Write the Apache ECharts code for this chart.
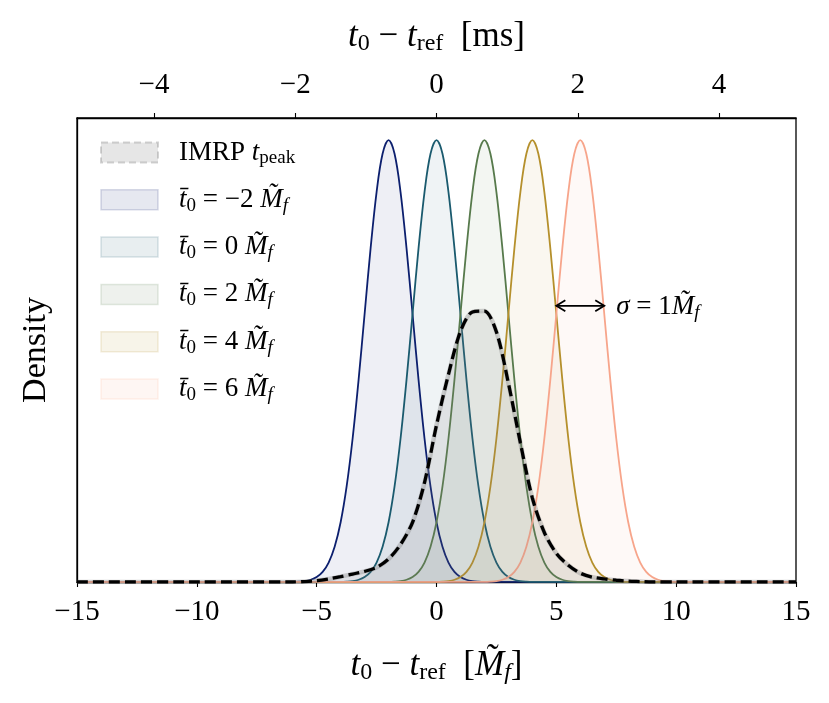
<!DOCTYPE html>
<html>
<head>
<meta charset="utf-8">
<script src="https://cdn.jsdelivr.net/npm/echarts@6/dist/echarts.min.js"></script>
<style>html,body{margin:0;padding:0;background:#fff;}#chart{width:829px;height:703px;}</style>
</head>
<body>
<div id="chart"></div>
<script>
// ---------- data ----------
const xRange = [-15, 15];
const xTickInterval = 5;
const msRange = [-5.09, 5.09];           // top axis (ms) spans the same window
const msTicks = [-4, -2, 0, 2, 4];
const yRange = [0, 1.05];

// Gaussian prior shape (sigma = 1): offset from centre -> relative density
const shapeOffsets = [-4, -3.75, -3.5, -3.25, -3, -2.75, -2.5, -2.25, -2, -1.75, -1.5, -1.25, -1, -0.75, -0.5, -0.25, 0,
                      0.25, 0.5, 0.75, 1, 1.25, 1.5, 1.75, 2, 2.25, 2.5, 2.75, 3, 3.25, 3.5, 3.75, 4];
const shapeValues = [0.0003, 0.0009, 0.0022, 0.0051, 0.0111, 0.0228, 0.0439, 0.0796, 0.1353, 0.2163, 0.3247, 0.4578, 0.6065, 0.7548, 0.8825, 0.9692, 1,
                     0.9692, 0.8825, 0.7548, 0.6065, 0.4578, 0.3247, 0.2163, 0.1353, 0.0796, 0.0439, 0.0228, 0.0111, 0.0051, 0.0022, 0.0009, 0.0003];
const priorCentres = [-2, 0, 2, 4, 6];
const priorNames = ['t0 = -2 Mf', 't0 = 0 Mf', 't0 = 2 Mf', 't0 = 4 Mf', 't0 = 6 Mf'];

// IMRP t_peak density (dashed curve)
const imrpX = [-15, -10, -6, -5.5, -5, -4.5, -4, -3.5, -3, -2.5, -2, -1.5, -1, -0.5, 0, 0.5, 1, 1.5, 2, 2.5, 3, 3.5, 4, 4.5, 5, 5.5, 6, 6.5, 7, 7.5, 8, 8.5, 9, 10, 15];
const imrpY = [0, 0, 0, 0.001, 0.003, 0.007, 0.012, 0.018, 0.024, 0.033, 0.052, 0.085, 0.135, 0.225, 0.355, 0.47, 0.567, 0.611, 0.613, 0.566, 0.45, 0.315, 0.19, 0.112, 0.065, 0.038, 0.02, 0.011, 0.007, 0.004, 0.002, 0.001, 0, 0, 0];
const imrpName = 'IMRP t_peak';

// sigma annotation
const sigmaArrowX = [5, 7];
const sigmaArrowLevel = 0.625;

// ---------- styles ----------
const lineColors = ['#0c1f6e', '#1a5a6e', '#577a4c', '#b5902c', '#f7a58b'];
const FONT = 'Liberation Serif';

function rgba(hex, a) {
  const n = parseInt(hex.slice(1), 16);
  return 'rgba(' + ((n >> 16) & 255) + ',' + ((n >> 8) & 255) + ',' + (n & 255) + ',' + a + ')';
}

const series = [];
series.push({
  name: imrpName, type: 'line', showSymbol: false, symbol: 'none', smooth: 0.3, z: 3,
  data: imrpX.map((x, i) => [x, imrpY[i]]),
  lineStyle: { color: 'rgba(128,128,128,0.35)', width: 4.5 },
  areaStyle: { color: 'rgba(128,128,128,0.2)', origin: 'start' },
  itemStyle: { color: 'rgba(128,128,128,0.2)' }
});
priorCentres.forEach((c, k) => {
  const data = [[xRange[0], 0]];
  shapeOffsets.forEach((o, i) => data.push([c + o, shapeValues[i]]));
  data.push([xRange[1], 0]);
  series.push({
    name: priorNames[k], type: 'line', showSymbol: false, symbol: 'none', smooth: 0.35, z: 2,
    data: data,
    lineStyle: { color: lineColors[k], width: 1.8 },
    areaStyle: { color: rgba(lineColors[k], 0.1), origin: 'start' },
    itemStyle: { color: lineColors[k] }
  });
});
series.push({
  name: 'IMRP dashed', type: 'line', showSymbol: false, symbol: 'none', smooth: 0.3, z: 5,
  data: imrpX.map((x, i) => [x, imrpY[i]]),
  lineStyle: { color: '#000', width: 3.3, type: [11, 5] },
  itemStyle: { color: '#000' }
});
series.push({
  name: 'sigma', type: 'custom', z: 6, silent: true,
  data: [[sigmaArrowX[0], sigmaArrowX[1], sigmaArrowLevel]],
  encode: { x: [0, 1], y: 2 },
  renderItem: function (params, api) {
    const p0 = api.coord([api.value(0), api.value(2)]);
    const p1 = api.coord([api.value(1), api.value(2)]);
    const h = 9, w = 5.5;
    const st = { stroke: '#000', lineWidth: 1.8, fill: null };
    return {
      type: 'group',
      children: [
        { type: 'line', shape: { x1: p0[0], y1: p0[1], x2: p1[0], y2: p1[1] }, style: st },
        { type: 'polyline', shape: { points: [[p0[0] + h, p0[1] - w], [p0[0], p0[1]], [p0[0] + h, p0[1] + w]] }, style: st },
        { type: 'polyline', shape: { points: [[p1[0] - h, p1[1] - w], [p1[0], p1[1]], [p1[0] - h, p1[1] + w]] }, style: st },
        { type: 'text', x: p1[0] + 12, y: p1[1] + 1,
          style: { text: '{i|σ}{n| = 1}{i|M\u0303}{sub|f}', fontFamily: FONT, fontSize: 27, fill: '#000',
                   textAlign: 'left', textVerticalAlign: 'middle',
                   rich: {
                     n: { fontFamily: FONT, fontSize: 27 },
                     i: { fontFamily: FONT, fontSize: 27, fontStyle: 'italic' },
                     sub: { fontFamily: FONT, fontSize: 19, fontStyle: 'italic', padding: [12, 0, 0, 0] }
                   } } }
      ]
    };
  }
});

const legendRich = {
  sp: { width: 16 },
  n: { fontFamily: FONT, fontSize: 27, color: '#000' },
  i: { fontFamily: FONT, fontSize: 27, fontStyle: 'italic', color: '#000' },
  sub: { fontFamily: FONT, fontSize: 19, color: '#000', padding: [12, 0, 0, 0] },
  isub: { fontFamily: FONT, fontSize: 19, fontStyle: 'italic', color: '#000', padding: [12, 0, 0, 0] }
};
function legendLabel(name) {
  if (name === imrpName) return '{sp| }{n|IMRP }{i|t}{sub|peak}';
  const k = priorNames.indexOf(name);
  const v = String(priorCentres[k]).replace('-', '−');
  return '{sp| }{i|t\u0304}{sub|0}{n| = ' + v + ' }{i|M\u0303}{isub|f}';
}

const axisRich = {
  n: { fontFamily: FONT, fontSize: 35, color: '#000' },
  i: { fontFamily: FONT, fontSize: 35, fontStyle: 'italic', color: '#000' },
  sub: { fontFamily: FONT, fontSize: 24, color: '#000', padding: [15, 0, 0, 0] },
  isub: { fontFamily: FONT, fontSize: 24, fontStyle: 'italic', color: '#000', padding: [15, 0, 0, 0] }
};
const minusFmt = v => String(v).replace('-', '−');

const option = {
  animation: false,
  backgroundColor: '#fff',
  textStyle: { fontFamily: FONT },
  grid: { left: 77, right: 33, top: 118, bottom: 121, show: true, borderColor: '#000', borderWidth: 1.3, backgroundColor: 'transparent' },
  legend: {
    orient: 'vertical', left: 100, top: 139, padding: 0, icon: 'rect', itemWidth: 57, itemHeight: 20, itemGap: 18.3,
    selectedMode: false,
    textStyle: { fontFamily: FONT, fontSize: 27, color: '#000', rich: legendRich },
    formatter: legendLabel,
    data: [{ name: imrpName, itemStyle: { color: 'rgba(128,128,128,0.2)', borderColor: 'rgba(128,128,128,0.35)', borderWidth: 2, borderType: [7, 4] } }]
      .concat(priorNames.map((n, k) => ({ name: n, itemStyle: { color: rgba(lineColors[k], 0.1), borderColor: rgba(lineColors[k], 0.16), borderWidth: 1.5 } })))
  },
  xAxis: [
    {
      type: 'value', position: 'bottom', min: xRange[0], max: xRange[1], interval: xTickInterval,
      axisLine: { show: true, onZero: false, lineStyle: { color: '#000', width: 1.3 } },
      axisTick: { show: true, inside: false, length: 5, lineStyle: { color: '#000', width: 1.1 } },
      axisLabel: { fontFamily: FONT, fontSize: 29, color: '#000', margin: 16, formatter: minusFmt },
      splitLine: { show: false },
      name: '{i|t}{sub|0}{n| − }{i|t}{sub|ref}{n|  [}{i|M\u0303}{isub|f}{n|]}',
      nameLocation: 'middle', nameGap: 64,
      nameTextStyle: { fontFamily: FONT, fontSize: 35, color: '#000', rich: axisRich }
    },
    {
      type: 'value', position: 'top', min: msRange[0], max: msRange[1],
      axisLine: { show: true, onZero: false, lineStyle: { color: '#000', width: 1.3 } },
      axisTick: { show: true, inside: false, length: 5, customValues: msTicks, lineStyle: { color: '#000', width: 1.1 } },
      axisLabel: { fontFamily: FONT, fontSize: 29, color: '#000', margin: 18, customValues: msTicks, formatter: minusFmt },
      splitLine: { show: false },
      name: '{i|t}{sub|0}{n| − }{i|t}{sub|ref}{n|  [ms]}',
      nameLocation: 'middle', nameGap: 62,
      nameTextStyle: { fontFamily: FONT, fontSize: 35, color: '#000', rich: axisRich }
    }
  ],
  yAxis: {
    type: 'value', min: yRange[0], max: yRange[1],
    axisLine: { show: true, onZero: false, lineStyle: { color: '#000', width: 1.3 } },
    axisTick: { show: false }, axisLabel: { show: false }, splitLine: { show: false },
    name: 'Density', nameLocation: 'middle', nameGap: 24,
    nameTextStyle: { fontFamily: FONT, fontSize: 34, color: '#000' }
  },
  series: series
};

const chart = echarts.init(document.getElementById('chart'), null, { renderer: 'canvas' });
chart.setOption(option);
</script>
</body>
</html>
